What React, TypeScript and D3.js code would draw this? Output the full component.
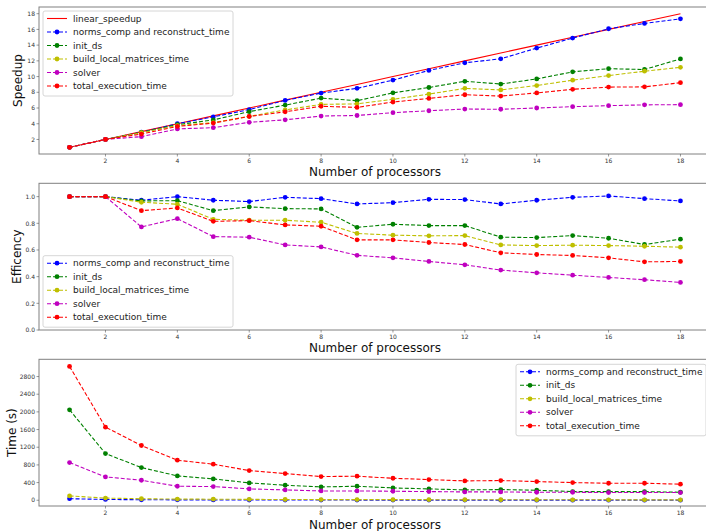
import { scaleLinear, line } from 'd3';

const W = 706;
const H = 531;

const procs = [1, 2, 3, 4, 5, 6, 7, 8, 9, 10, 11, 12, 13, 14, 15, 16, 17, 18];
const linearSpeedup = [1, 2, 3, 4, 5, 6, 7, 8, 9, 10, 11, 12, 13, 14, 15, 16, 17, 18];

const speedNorms = [1, 2, 2.92, 4.0, 4.87, 5.8, 6.97, 7.9, 8.5, 9.55, 10.78, 11.75, 12.26, 13.62, 14.9, 16.08, 16.76, 17.35];
const speedInit = [1, 2, 2.9, 3.88, 4.48, 5.54, 6.37, 7.26, 6.93, 7.93, 8.61, 9.4, 9.05, 9.7, 10.6, 11.0, 10.9, 12.25];
const speedBuild = [1, 2, 2.87, 3.77, 4.15, 4.94, 5.76, 6.46, 6.53, 7.11, 7.77, 8.5, 8.3, 8.86, 9.54, 10.13, 10.68, 11.18];
const speedSolver = [1, 2, 2.36, 3.34, 3.5, 4.18, 4.5, 4.98, 5.05, 5.41, 5.65, 5.87, 5.84, 6.0, 6.17, 6.3, 6.4, 6.43];
const speedTotal = [1, 2, 2.69, 3.66, 4.08, 4.92, 5.52, 6.22, 6.08, 6.76, 7.22, 7.69, 7.52, 7.92, 8.38, 8.66, 8.69, 9.22];

const effNorms = [1, 1, 0.973, 1.0, 0.973, 0.963, 0.995, 0.985, 0.945, 0.955, 0.98, 0.978, 0.945, 0.973, 0.995, 1.005, 0.985, 0.968];
const effInit = [1, 1, 0.968, 0.97, 0.895, 0.923, 0.91, 0.908, 0.77, 0.793, 0.783, 0.783, 0.696, 0.693, 0.708, 0.688, 0.641, 0.681];
const effBuild = [1, 1, 0.958, 0.943, 0.83, 0.823, 0.823, 0.808, 0.724, 0.711, 0.706, 0.708, 0.638, 0.633, 0.636, 0.633, 0.628, 0.621];
const effSolver = [1, 1, 0.773, 0.835, 0.7, 0.696, 0.638, 0.623, 0.56, 0.541, 0.514, 0.489, 0.449, 0.429, 0.411, 0.394, 0.377, 0.357];
const effTotal = [1, 1, 0.895, 0.915, 0.815, 0.82, 0.788, 0.778, 0.676, 0.676, 0.656, 0.641, 0.579, 0.566, 0.559, 0.541, 0.511, 0.514];

const timeNorms = [35, 18, 12, 9, 7, 6, 5, 4.4, 4.1, 3.7, 3.3, 3.0, 2.9, 2.6, 2.4, 2.2, 2.1, 2.0];
const timeInit = [2047, 1057, 740, 551, 483, 393, 340, 302, 317, 279, 257, 234, 242, 227, 196, 196, 196, 181];
const timeBuild = [98, 49, 34, 26, 24, 20, 17, 15, 15, 14, 13, 12, 12, 11, 10, 10, 9, 9];
const timeSolver = [853, 529, 453, 317, 310, 257, 234, 211, 211, 204, 196, 189, 189, 181, 181, 174, 174, 174];
const timeTotal = [3029, 1654, 1239, 906, 816, 672, 604, 536, 544, 498, 468, 438, 446, 423, 400, 385, 385, 363];

const seriesNames = ['norms_comp and reconstruct_time', 'init_ds', 'build_local_matrices_time', 'solver', 'total_execution_time'];
const seriesColors = ['#0000ff', '#008000', '#bfbf00', '#bf00bf', '#ff0000'];

const xTicks = [2, 4, 6, 8, 10, 12, 14, 16, 18];
const speedTicks = [2, 4, 6, 8, 10, 12, 14, 16, 18];
const effTicks = [0, 0.2, 0.4, 0.6, 0.8, 1.0];
const timeTicks = [0, 400, 800, 1200, 1600, 2000, 2400, 2800];

const FONT = 'DejaVu Sans, sans-serif';
const left = 39;
const right = 711;

const x = scaleLinear().domain([0.15, 18.85]).range([left, right]);

type Series = { name: string; color: string; values: number[]; dashed: boolean; marker: boolean };

const Panel = ({ top, bottom, yDomain, yTicks, fmt, ylabel, ylabelX, xlabelY, series, legend }: {
    top: number; bottom: number; yDomain: number[]; yTicks: number[]; fmt: (v: number) => string;
    ylabel: string; ylabelX: number; xlabelY: number; series: Series[];
    legend: { x: number; y: number };
}) => {
    const y = scaleLinear().domain(yDomain).range([bottom, top]);
    const path = line<number>().x((d, i) => x(procs[i])).y(d => y(d));
    const rowH = 13.5;
    const legH = series.length * rowH + 4;
    return (
        <g>
            {series.map(s => (
                <g key={s.name}>
                    <path d={path(s.values) || ''} fill="none" stroke={s.color} strokeWidth={1.1}
                        strokeDasharray={s.dashed ? '4,2' : undefined} />
                    {s.marker && s.values.map((v, i) => (
                        <circle key={i} cx={x(procs[i])} cy={y(v)} r={2.4} fill={s.color} />
                    ))}
                </g>
            ))}
            <rect x={left} y={top} width={right - left} height={bottom - top} fill="none" stroke="#808080" strokeWidth={1} />
            {xTicks.map(t => (
                <g key={t}>
                    <line x1={x(t)} x2={x(t)} y1={bottom} y2={bottom + 2.5} stroke="#555" strokeWidth={0.6} />
                    <text x={x(t)} y={bottom + 9} fontSize={6} fill="#333" textAnchor="middle" fontFamily={FONT}>{t}</text>
                </g>
            ))}
            {yTicks.map(t => (
                <g key={t}>
                    <line x1={left - 2.5} x2={left} y1={y(t)} y2={y(t)} stroke="#555" strokeWidth={0.6} />
                    <text x={left - 4} y={y(t) + 2.2} fontSize={6} fill="#333" textAnchor="end" fontFamily={FONT}>{fmt(t)}</text>
                </g>
            ))}
            <text x={(left + right) / 2} y={xlabelY} fontSize={12} textAnchor="middle" fontFamily={FONT} fill="#111">Number of processors</text>
            <text transform={`translate(${ylabelX},${(top + bottom) / 2}) rotate(-90)`} fontSize={12} textAnchor="middle"
                fontFamily={FONT} fill="#111">{ylabel}</text>
            <g transform={`translate(${legend.x},${legend.y})`}>
                <rect x={0} y={0} width={190} height={legH} rx={2} fill="#fff" fillOpacity={0.85} stroke="#cccccc" strokeWidth={0.8} />
                {series.map((s, i) => {
                    const cy = 7.5 + i * rowH;
                    return (
                        <g key={s.name}>
                            <line x1={4} x2={24} y1={cy} y2={cy} stroke={s.color} strokeWidth={1.1}
                                strokeDasharray={s.dashed ? '4,2' : undefined} />
                            {s.marker && <circle cx={14} cy={cy} r={2.4} fill={s.color} />}
                            <text x={30} y={cy + 3.2} fontSize={9} fill="#222" fontFamily={FONT}>{s.name}</text>
                        </g>
                    );
                })}
            </g>
        </g>
    );
};

const mk = (vals: number[][]): Series[] =>
    vals.map((v, i) => ({ name: seriesNames[i], color: seriesColors[i], values: v, dashed: true, marker: true }));

export default function App() {
    const speedSeries: Series[] = [
        { name: 'linear_speedup', color: '#ff0000', values: linearSpeedup, dashed: false, marker: false },
        ...mk([speedNorms, speedInit, speedBuild, speedSolver, speedTotal]),
    ];
    const effSeries = mk([effNorms, effInit, effBuild, effSolver, effTotal]);
    const timeSeries = mk([timeNorms, timeInit, timeBuild, timeSolver, timeTotal]);

    return (
        <svg width={W} height={H} style={{ position: 'absolute', left: 0, top: 0, background: '#fff' }}>
            <Panel top={7} bottom={154} yDomain={[0.15, 18.85]} yTicks={speedTicks} fmt={v => String(v)}
                ylabel="Speedup" ylabelX={22} xlabelY={176} series={speedSeries} legend={{ x: 43, y: 11 }} />
            <Panel top={183.3} bottom={330} yDomain={[0, 1.1]} yTicks={effTicks} fmt={v => v.toFixed(1)}
                ylabel="Efficency" ylabelX={21} xlabelY={352} series={effSeries} legend={{ x: 43, y: 255.7 }} />
            <Panel top={359.3} bottom={506} yDomain={[-130, 3190]} yTicks={timeTicks} fmt={v => String(v)}
                ylabel="Time (s)" ylabelX={15.5} xlabelY={529} series={timeSeries} legend={{ x: 516, y: 364.3 }} />
        </svg>
    );
}
